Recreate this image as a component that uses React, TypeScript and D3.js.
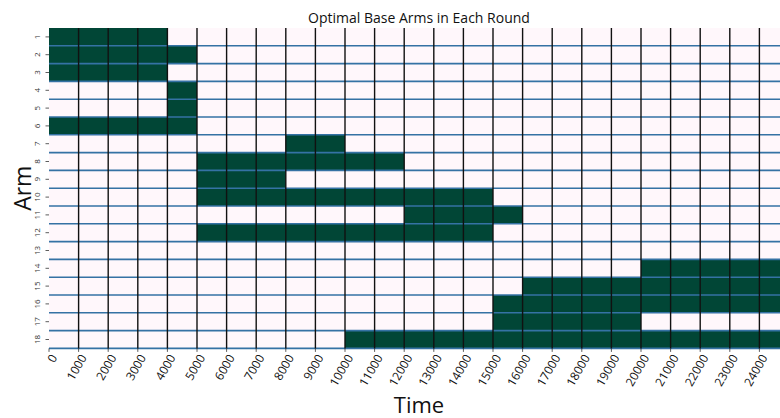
import React from "react";
import * as d3 from "d3";

const times: number[] = [0,1000,2000,3000,4000,5000,6000,7000,8000,9000,10000,11000,12000,13000,14000,15000,16000,17000,18000,19000,20000,21000,22000,23000,24000];
const arms: number[] = [1,2,3,4,5,6,7,8,9,10,11,12,13,14,15,16,17,18];
// active [startTime, endTime] (inclusive) per arm; empty = never optimal
const arm1 = [[0, 3000]];
const arm2 = [[0, 4000]];
const arm3 = [[0, 3000]];
const arm4 = [[4000, 4000]];
const arm5 = [[4000, 4000]];
const arm6 = [[0, 4000]];
const arm7 = [[8000, 9000]];
const arm8 = [[5000, 11000]];
const arm9 = [[5000, 7000]];
const arm10 = [[5000, 14000]];
const arm11 = [[12000, 15000]];
const arm12 = [[5000, 14000]];
const arm13: number[][] = [];
const arm14 = [[20000, 24000]];
const arm15 = [[16000, 24000]];
const arm16 = [[15000, 24000]];
const arm17 = [[15000, 19000]];
const arm18 = [[10000, 24000]];
const armRanges = [arm1, arm2, arm3, arm4, arm5, arm6, arm7, arm8, arm9, arm10, arm11, arm12, arm13, arm14, arm15, arm16, arm17, arm18];

const title = "Optimal Base Arms in Each Round";
const xTitle = "Time";
const yTitle = "Arm";

export default function App() {
  const W = 780, H = 418;
  const left = 49, right = 789, top = 28, bottom = 348.4;
  const x = d3.scaleBand<number>().domain(times).range([left, right]).padding(0);
  const y = d3.scaleBand<number>().domain(arms).range([top, bottom]).padding(0);
  const color = d3.scaleLinear<string>().domain([0, 1]).range(["#fff7fb", "#014636"]);
  const font = "'Open Sans', 'DejaVu Sans', sans-serif";

  const cells: { t: number; a: number; v: number }[] = [];
  arms.forEach((a, i) => {
    times.forEach((t) => {
      const on = armRanges[i].some(([s, e]) => t >= s && t <= e);
      cells.push({ t, a, v: on ? 1 : 0 });
    });
  });

  return (
    <svg width={W} height={H} style={{ position: "absolute", left: 0, top: 0, background: "#fff" }}>
      <g>
        {cells.map((c, i) => (
          <rect key={i} x={x(c.t)!} y={y(c.a)!} width={x.bandwidth() + 0.5} height={y.bandwidth() + 0.5} fill={color(c.v)} />
        ))}
      </g>
      <g>
        {arms.map((a) => (
          <line key={a} x1={left} x2={right} y1={y(a)! + y.bandwidth()} y2={y(a)! + y.bandwidth()} stroke="#3572a4" strokeWidth={1.6} />
        ))}
      </g>
      <g>
        {times.slice(1).map((t) => (
          <line key={t} x1={x(t)!} x2={x(t)!} y1={top} y2={bottom} stroke="#111" strokeWidth={1.4} />
        ))}
      </g>
      <g>
        {times.map((t) => (
          <g key={t} transform={`translate(${x(t)!},${bottom})`}>
            <line y1={0} y2={3.5} stroke="#333" strokeWidth={0.8} />
            <text transform="translate(5,7) rotate(-60)" textAnchor="end" dy="0.35em" fontSize={12} fontFamily={font} fill="#111">
              {t}
            </text>
          </g>
        ))}
      </g>
      <g>
        {arms.map((a) => (
          <g key={a} transform={`translate(${left},${y(a)! + y.bandwidth() / 2})`}>
            <line x1={-3.5} x2={0} stroke="#333" strokeWidth={0.8} />
            <text transform="translate(-9,0) rotate(-90)" textAnchor="middle" fontSize={8} fontFamily={font} fill="#333">
              {a}
            </text>
          </g>
        ))}
      </g>
      <text x={(left + right) / 2} y={23} textAnchor="middle" fontSize={14} fontFamily={font} fill="#111">
        {title}
      </text>
      <text x={(left + right) / 2} y={413} textAnchor="middle" fontSize={22} fontFamily={font} fill="#111">
        {xTitle}
      </text>
      <text transform={`translate(31,${(top + bottom) / 2}) rotate(-90)`} textAnchor="middle" fontSize={23} fontFamily={font} fill="#111">
        {yTitle}
      </text>
    </svg>
  );
}
